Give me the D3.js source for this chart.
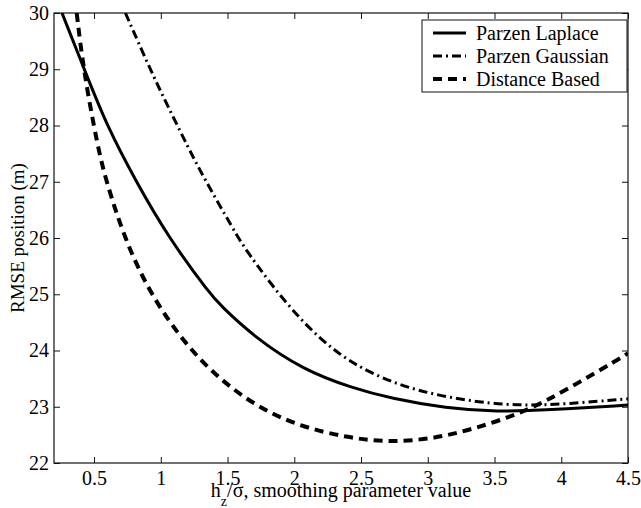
<!DOCTYPE html>
<html>
<head>
<meta charset="utf-8">
<script src="https://cdn.jsdelivr.net/npm/d3@7"></script>
<style>
body { margin: 0; background: #fff; }
svg text { font-family: "Liberation Serif", "Times New Roman", serif !important; }
</style>
</head>
<body>
<div id="chart"></div>
<script>
// values
var laplaceX = [0.26, 0.435, 0.595, 0.815, 1.06, 1.37, 1.444, 1.694, 2.07, 2.44, 2.72, 3.14, 3.52, 3.89, 4.5];
var laplaceY = [30.0, 28.95, 28.0, 27.0, 26.0, 25.0, 24.81, 24.25, 23.65, 23.33, 23.15, 22.97, 22.91, 22.94, 23.03];

var gaussX = [0.735, 0.92, 1.045, 1.207, 1.32, 1.557, 1.62, 1.82, 2.07, 2.32, 2.57, 2.92, 3.39, 3.71, 4.04, 4.5];
var gaussY = [30.0, 29.0, 28.38, 27.6, 27.08, 26.1, 25.85, 25.19, 24.48, 23.95, 23.59, 23.27, 23.07, 23.02, 23.05, 23.14];

var distX = [0.37, 0.42, 0.527, 0.592, 0.727, 0.92, 1.196, 1.446, 1.72, 2.04, 2.4, 2.69, 3.02, 3.34, 3.72, 4.04, 4.44, 4.5];
var distY = [30.0, 29.0, 27.62, 27.0, 26.0, 25.0, 24.07, 23.48, 23.0, 22.65, 22.45, 22.37, 22.42, 22.6, 22.9, 23.3, 23.86, 23.95];

var seriesNames = ["Parzen Laplace", "Parzen Gaussian", "Distance Based"];

var xTicks = [0.5, 1, 1.5, 2, 2.5, 3, 3.5, 4, 4.5];
var yTicks = [22, 23, 24, 25, 26, 27, 28, 29, 30];

var W = 641, H = 508;
var margin = {top: 13, right: 13, bottom: 45, left: 54};
var width = W - margin.left - margin.right,
    height = H - margin.top - margin.bottom;

var svg = d3.select("#chart").append("svg")
    .attr("width", W)
    .attr("height", H);

var g = svg.append("g")
    .attr("transform", "translate(" + margin.left + "," + margin.top + ")");

var x = d3.scaleLinear().domain([0.2, 4.5]).range([0, width]);
var y = d3.scaleLinear().domain([22, 30]).range([height, 0]);

// clip the curves to the box
g.append("clipPath").attr("id", "plotclip")
  .append("rect").attr("width", width).attr("height", height);

// axes, matlab style ticks pointing in
var fmt = function(d) { return String(d); };

var xAxis = g.append("g")
    .attr("transform", "translate(0," + height + ")")
    .call(d3.axisBottom(x).tickValues(xTicks).tickSizeInner(-6).tickSizeOuter(0).tickFormat(fmt));
xAxis.selectAll("text").attr("y", 22).attr("dy", 0);

var yAxis = g.append("g")
    .call(d3.axisLeft(y).tickValues(yTicks).tickSizeInner(-6).tickSizeOuter(0).tickFormat(fmt).tickPadding(5));

g.append("g")
    .call(d3.axisTop(x).tickValues(xTicks).tickSizeInner(-6).tickSizeOuter(0).tickFormat(""));
g.append("g")
    .attr("transform", "translate(" + width + ",0)")
    .call(d3.axisRight(y).tickValues(yTicks).tickSizeInner(-6).tickSizeOuter(0).tickFormat(""));

g.selectAll(".domain").remove();
g.selectAll(".tick line").attr("stroke", "#111").attr("stroke-width", 1);

g.append("rect")
    .attr("width", width).attr("height", height)
    .attr("fill", "none").attr("stroke", "#111").attr("stroke-width", 1.2);

// lines
var line = d3.line()
    .x(function(d) { return x(d[0]); })
    .y(function(d) { return y(d[1]); })
    .curve(d3.curveBasis);

var series = [
  {name: seriesNames[0], data: d3.zip(laplaceX, laplaceY), dash: null, w: 3},
  {name: seriesNames[1], data: d3.zip(gaussX, gaussY), dash: "9,4,2,4", w: 3},
  {name: seriesNames[2], data: d3.zip(distX, distY), dash: "9,6", w: 4}
];

g.append("g").attr("clip-path", "url(#plotclip)")
  .selectAll("path")
  .data(series)
  .enter()
  .append("path")
  .attr("d", function(d) { return line(d.data); })
  .attr("fill", "none")
  .attr("stroke", "#000")
  .attr("stroke-width", function(d) { return d.w; })
  .attr("stroke-dasharray", function(d) { return d.dash; });

// legend
var leg = svg.append("g").attr("transform", "translate(422,20)");
leg.append("rect")
    .attr("width", 205).attr("height", 72)
    .attr("fill", "#fff").attr("stroke", "#111").attr("stroke-width", 1);

var items = leg.selectAll(".item")
    .data(series)
    .enter().append("g")
    .attr("class", "item")
    .attr("transform", function(d, i) { return "translate(0," + (13 + i * 23) + ")"; });

items.append("line")
    .attr("x1", 11).attr("x2", 44)
    .attr("stroke", "#000")
    .attr("stroke-width", function(d) { return d.w; })
    .attr("stroke-dasharray", function(d) { return d.dash; });

items.append("text")
    .attr("x", 54).attr("y", 7)
    .text(function(d) { return d.name; });

// axis labels
var xl = svg.append("text")
    .attr("x", margin.left + width / 2)
    .attr("y", 497)
    .attr("text-anchor", "middle");
xl.append("tspan").text("h");
xl.append("tspan").attr("dy", 9).style("font-size", "14px").text("z");
xl.append("tspan").attr("dy", -9).text("/σ, smoothing parameter value");

svg.append("text")
    .attr("class", "ylab")
    .attr("transform", "translate(24," + (margin.top + height / 2) + ") rotate(-90)")
    .attr("text-anchor", "middle")
    .text("RMSE position (m)");

svg.selectAll("text")
    .attr("font-family", null)
    .style("font-size", "20px")
    .attr("fill", "#000");
svg.selectAll(".ylab").style("font-size", "19px");
</script>
</body>
</html>
